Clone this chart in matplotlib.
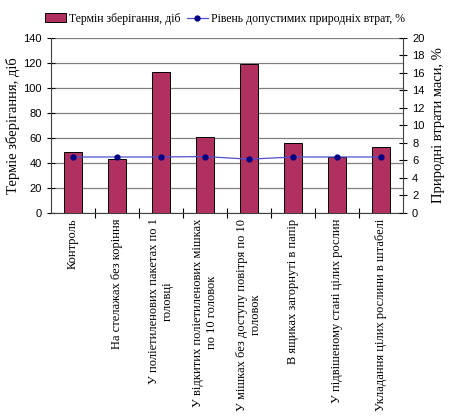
import matplotlib
matplotlib.use("Agg")
import matplotlib.pyplot as plt
import numpy as np

categories = [
    "Контроль",
    "На стелажах без коріння",
    "У поліетиленових пакетах по 1\nголовці",
    "У відкитих поліетиленових мішках\nпо 10 головок",
    "У мішках без доступу повітря по 10\nголовок",
    "В ящиках загорнуті в папір",
    "У підвішеному стані цілих рослин",
    "Укладання цілих рослини в штабелі",
]
storage_days = [48.5, 43.5, 113, 60.8, 119.5, 55.8, 44.5, 52.8]
loss_pct = [6.4, 6.4, 6.4, 6.45, 6.15, 6.4, 6.4, 6.4]

serif = "Liberation Serif"
sans = "Liberation Sans"

fig = plt.figure(figsize=(4.5, 4.16), dpi=100)
ax = fig.add_axes([0.1133, 0.488, 0.7823, 0.4207])
ax2 = ax.twinx()

x = np.arange(len(categories))
bars = ax.bar(x, storage_days, width=0.42, color="#B03060", edgecolor="black",
              linewidth=0.7, zorder=3, label="Термін зберігання, діб")
line, = ax2.plot(x, loss_pct, color="#5050d0", linewidth=0.9, marker="o",
                 markersize=3.5, markerfacecolor="#000080", markeredgecolor="#000080",
                 zorder=4, label="Рівень допустимих природніх втрат, %")

ax.set_xlim(-0.5, len(categories) - 0.5)
ax.set_ylim(0, 140)
ax.set_yticks(np.arange(0, 141, 20))
ax2.set_ylim(0, 20)
ax2.set_yticks(np.arange(0, 21, 2))

ax.yaxis.grid(True, color="#808080", linewidth=0.9, zorder=0)
ax.set_axisbelow(True)

ax.set_xticks(x)
ax.set_xticklabels(categories, rotation=90, fontfamily=serif, fontsize=9,
                   ha="center", va="top", multialignment="center")
ax.set_xticks(np.arange(0.5, len(categories) - 0.5, 1), minor=True)
ax.tick_params(axis="x", which="major", length=0, pad=4)
ax.tick_params(axis="x", which="minor", direction="inout", length=7, width=0.8)
ax.tick_params(axis="y", direction="inout", length=6, width=0.8, labelsize=8)
ax2.tick_params(axis="y", direction="inout", length=6, width=0.8, labelsize=8)
for lab in ax.get_yticklabels() + ax2.get_yticklabels():
    lab.set_fontfamily(sans)

for a in (ax, ax2):
    a.spines["top"].set_visible(False)
ax.spines["right"].set_visible(False)
ax2.spines["left"].set_visible(False)
ax2.spines["bottom"].set_visible(False)
ax.spines["left"].set_color("#404040")
ax.spines["bottom"].set_color("#404040")
ax2.spines["right"].set_color("#404040")

ax.set_ylabel("Терміе зберігання, діб", fontfamily=serif, fontsize=10.5)
ax.yaxis.set_label_coords(-0.088, 0.5)
ax2.set_ylabel("Природні втрати маси, %", fontfamily=serif, fontsize=10.5,
               rotation=90)
ax2.yaxis.set_label_coords(1.082, 0.5)

fig.legend(handles=[bars, line], loc="upper center", bbox_to_anchor=(0.5, 0.995),
           ncol=2, frameon=False, prop={"family": serif, "size": 8.5},
           handlelength=1.8, columnspacing=0.5, handletextpad=0.3)

fig.savefig("out.png", dpi=100)
